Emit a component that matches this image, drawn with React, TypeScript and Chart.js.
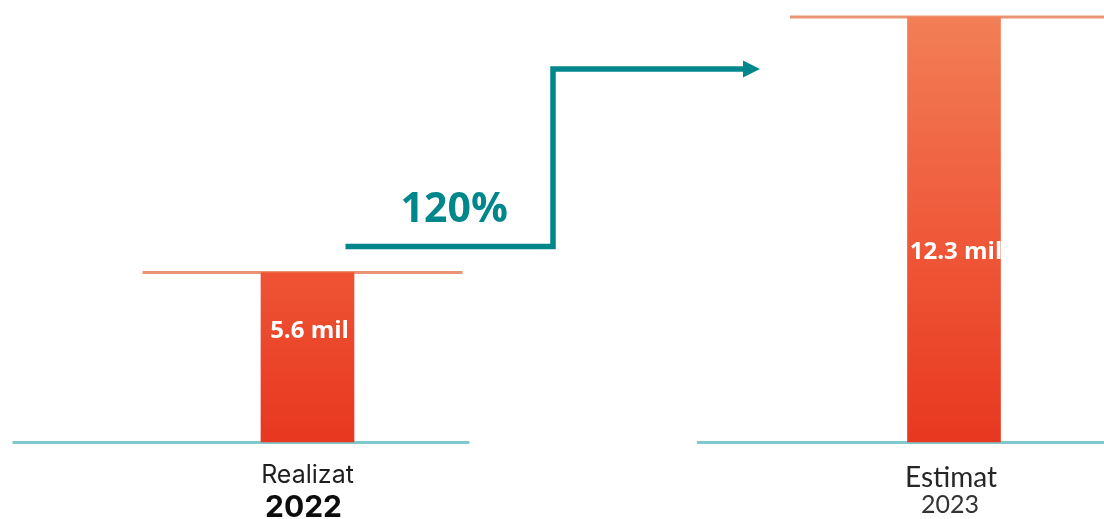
import React, { useEffect, useRef } from "react";
import { Chart, registerables } from "chart.js";

Chart.register(...registerables);

// ---- data ----
const categories = ["Realizat", "Estimat"];
const years = ["2022", "2023"];
const values = [5.6, 12.3];
const valueLabels = ["5.6 mil", "12.3 mil"];
const growthLabel = "120%";

// ---- styling / layout constants ----
const LEFT_AXIS_MAX = 14.04; // left panel drawn on its own scale
const RIGHT_AXIS_MAX = 12.3;
const LABEL_FRACTIONS = [0.348, 0.553];
const TEAL = "#00878b";
const BASE_TEAL = "#7fc8cc";
const TOP_ORANGE = "#eb9473";

const decorPlugin = {
  id: "decor",
  beforeDatasetsDraw(chart: any) {
    const { ctx, scales } = chart;
    const x0 = scales.x.getPixelForValue(0);
    const x1 = scales.x.getPixelForValue(1);
    const base = scales.yRight.getPixelForValue(0);
    const topL = scales.yLeft.getPixelForValue(values[0]);
    const topR = scales.yRight.getPixelForValue(values[1]);
    ctx.save();
    ctx.lineWidth = 3;
    ctx.strokeStyle = BASE_TEAL;
    ctx.beginPath();
    ctx.moveTo(x0 - 295, base + 0.5);
    ctx.lineTo(x0 + 162, base + 0.5);
    ctx.moveTo(x1 - 257, base + 0.5);
    ctx.lineTo(chart.width, base + 0.5);
    ctx.stroke();
    ctx.strokeStyle = TOP_ORANGE;
    ctx.beginPath();
    ctx.moveTo(x0 - 165, topL);
    ctx.lineTo(x0 + 155, topL);
    ctx.moveTo(x1 - 164, topR);
    ctx.lineTo(chart.width, topR);
    ctx.stroke();
    ctx.restore();
  },
  afterDatasetsDraw(chart: any) {
    const { ctx, scales } = chart;
    ctx.save();
    // value labels inside bars
    ctx.fillStyle = "#ffffff";
    ctx.font = 'bold 24px "Open Sans"';
    ctx.textAlign = "center";
    ctx.textBaseline = "middle";
    chart.data.datasets.forEach((ds: any, i: number) => {
      const el = chart.getDatasetMeta(i).data[i];
      if (!el) return;
      const y = el.y + LABEL_FRACTIONS[i] * (el.base - el.y);
      ctx.fillText(valueLabels[i], el.x + 2, y);
    });

    const x0 = scales.x.getPixelForValue(0);
    const x1 = scales.x.getPixelForValue(1);
    const base = scales.yRight.getPixelForValue(0);
    const topL = scales.yLeft.getPixelForValue(values[0]);
    const topR = scales.yRight.getPixelForValue(values[1]);

    // category labels
    ctx.textBaseline = "alphabetic";
    ctx.fillStyle = "#1f1f1f";
    ctx.font = "400 25px Inter";
    ctx.fillText(categories[0], x0, base + 41);
    ctx.fillStyle = "#0d0d0d";
    ctx.font = "bold 30px Inter";
    ctx.fillText(years[0], x0 - 4, base + 75);
    ctx.fillStyle = "#262626";
    ctx.font = "400 28px Lato";
    ctx.fillText(categories[1], x1 - 3, base + 45);
    ctx.fillStyle = "#333333";
    ctx.font = "400 25px Lato";
    ctx.fillText(years[1], x1 - 4, base + 71);

    // growth arrow
    const yLow = topL - 26;
    const yHigh = topR + 52;
    const xStart = x0 + 38;
    const xRise = x0 + 245.5;
    const xTip = x1 - 194;
    ctx.strokeStyle = TEAL;
    ctx.fillStyle = TEAL;
    ctx.lineWidth = 5.5;
    ctx.lineJoin = "miter";
    ctx.beginPath();
    ctx.moveTo(xStart, yLow);
    ctx.lineTo(xRise, yLow);
    ctx.lineTo(xRise, yHigh);
    ctx.lineTo(xTip - 15, yHigh);
    ctx.stroke();
    ctx.beginPath();
    ctx.moveTo(xTip, yHigh);
    ctx.lineTo(xTip - 17, yHigh - 8.5);
    ctx.lineTo(xTip - 17, yHigh + 8.5);
    ctx.closePath();
    ctx.fill();

    ctx.font = 'bold 41px "Open Sans"';
    ctx.fillText(growthLabel, (xStart + xRise) / 2 + 5, yLow - 24);
    ctx.restore();
  },
};

function barGradient(context: any) {
  const chart = context.chart;
  const area = chart.chartArea;
  if (!area) return "#ec4a2c";
  const g = chart.ctx.createLinearGradient(0, area.top, 0, area.bottom);
  g.addColorStop(0, "#f27f56");
  g.addColorStop(0.35, "#f06443");
  g.addColorStop(0.6, "#ee5334");
  g.addColorStop(1, "#e8381f");
  return g;
}

export default function App() {
  const canvasRef = useRef<HTMLCanvasElement | null>(null);

  useEffect(() => {
    if (!canvasRef.current) return;
    const chart = new Chart(canvasRef.current, {
      type: "bar",
      data: {
        labels: categories.map((c, i) => `${c} ${years[i]}`),
        datasets: [
          {
            label: categories[0],
            data: [values[0], null],
            yAxisID: "yLeft",
            backgroundColor: barGradient,
            barThickness: 93,
            grouped: false,
            clip: false,
          } as any,
          {
            label: categories[1],
            data: [null, values[1]],
            yAxisID: "yRight",
            backgroundColor: barGradient,
            barThickness: 93,
            grouped: false,
            clip: false,
          } as any,
        ],
      },
      options: {
        animation: false,
        responsive: true,
        maintainAspectRatio: false,
        events: [],
        layout: { padding: { left: 307.5, right: 150, top: 17, bottom: 77 } },
        plugins: {
          legend: { display: false },
          tooltip: { enabled: false },
        },
        scales: {
          x: { type: "category", offset: false, display: false },
          yLeft: { display: false, min: 0, max: LEFT_AXIS_MAX },
          yRight: { display: false, min: 0, max: RIGHT_AXIS_MAX },
        },
      },
      plugins: [decorPlugin],
    });
    return () => chart.destroy();
  }, []);

  return (
    <div
      style={{
        position: "fixed",
        left: 0,
        top: 0,
        width: 1104,
        height: 519,
        background: "#ffffff",
      }}
    >
      <canvas ref={canvasRef} />
    </div>
  );
}
